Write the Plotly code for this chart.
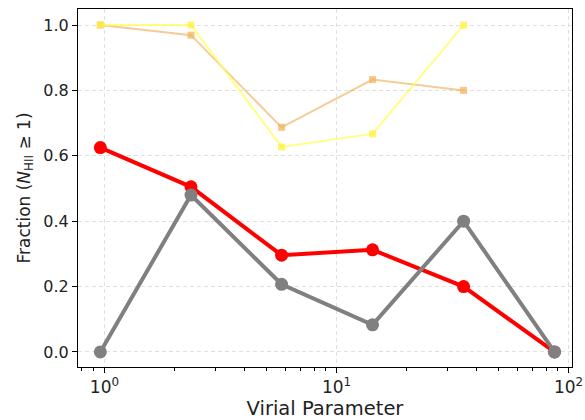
import plotly.graph_objects as go

virial = [0.96, 2.36, 5.8, 14.3, 35.3, 87.0]
frac_red = [0.625, 0.505, 0.296, 0.3125, 0.2, 0.0]
frac_gray = [0.0, 0.48, 0.207, 0.083, 0.4, 0.0]
virial_top = [0.96, 2.36, 5.8, 14.3, 35.3]
frac_yellow = [1.0, 1.0, 0.627, 0.667, 1.0]
frac_orange = [1.0, 0.969, 0.687, 0.833, 0.8]

xtick_vals = [1, 10, 100]
xtick_text = ["10<sup>0</sup>", "10<sup>1</sup>", "10<sup>2</sup>"]
xminor_vals = [0.8, 0.9, 2, 3, 4, 5, 6, 7, 8, 9, 20, 30, 40, 50, 60, 70, 80, 90]
ytick_vals = [0.0, 0.2, 0.4, 0.6, 0.8, 1.0]

fig = go.Figure()
fig.add_trace(go.Scatter(x=virial_top, y=frac_orange, mode="lines+markers",
                         line=dict(color="rgba(240,170,80,0.6)", width=2),
                         marker=dict(symbol="square", size=7, color="rgba(245,175,85,0.7)"),
                         showlegend=False))
fig.add_trace(go.Scatter(x=virial_top, y=frac_yellow, mode="lines+markers",
                         line=dict(color="rgba(255,255,80,0.7)", width=2),
                         marker=dict(symbol="square", size=7, color="rgba(255,240,60,0.75)"),
                         showlegend=False))
fig.add_trace(go.Scatter(x=virial, y=frac_red, mode="lines+markers",
                         line=dict(color="#ff0000", width=4),
                         marker=dict(symbol="circle", size=13, color="#ff0000"),
                         showlegend=False))
fig.add_trace(go.Scatter(x=virial, y=frac_gray, mode="lines+markers",
                         line=dict(color="#808080", width=4),
                         marker=dict(symbol="circle", size=13, color="#808080"),
                         showlegend=False))

fig.update_layout(
    width=585, height=420,
    margin=dict(l=78, r=13, t=9, b=53),
    paper_bgcolor="white", plot_bgcolor="white",
    font=dict(family="DejaVu Sans", size=16, color="#222"),
)
fig.update_xaxes(
    type="log", range=[-0.114, 2.015], automargin=False,
    tickvals=xtick_vals, ticktext=xtick_text, tickfont=dict(size=17),
    ticks="outside", ticklen=5, tickcolor="black",
    showline=True, linecolor="black", linewidth=1, mirror=True,
    showgrid=True, gridcolor="#e0e0e0", griddash="4px,3px", gridwidth=1,
    minor=dict(tickvals=xminor_vals, ticks="outside", ticklen=3,
               tickcolor="black", showgrid=False),
    zeroline=False,
    title=dict(text="Virial Parameter", font=dict(size=19.5), standoff=4),
)
fig.update_yaxes(
    range=[-0.046, 1.049], automargin=False,
    tickvals=ytick_vals, tickformat=".1f",
    ticks="outside", ticklen=5, tickcolor="black",
    showline=True, linecolor="black", linewidth=1, mirror=True,
    showgrid=True, gridcolor="#e0e0e0", griddash="4px,3px", gridwidth=1,
    zeroline=False,
    title=dict(text="Fraction (<i>N</i><sub>HII</sub> ≥ 1)", font=dict(size=17), standoff=8),
)

fig.write_html(
    "out.html",
    config={"displayModeBar": False},
    post_script="document.body.style.margin='0';document.body.style.overflow='hidden';",
)
